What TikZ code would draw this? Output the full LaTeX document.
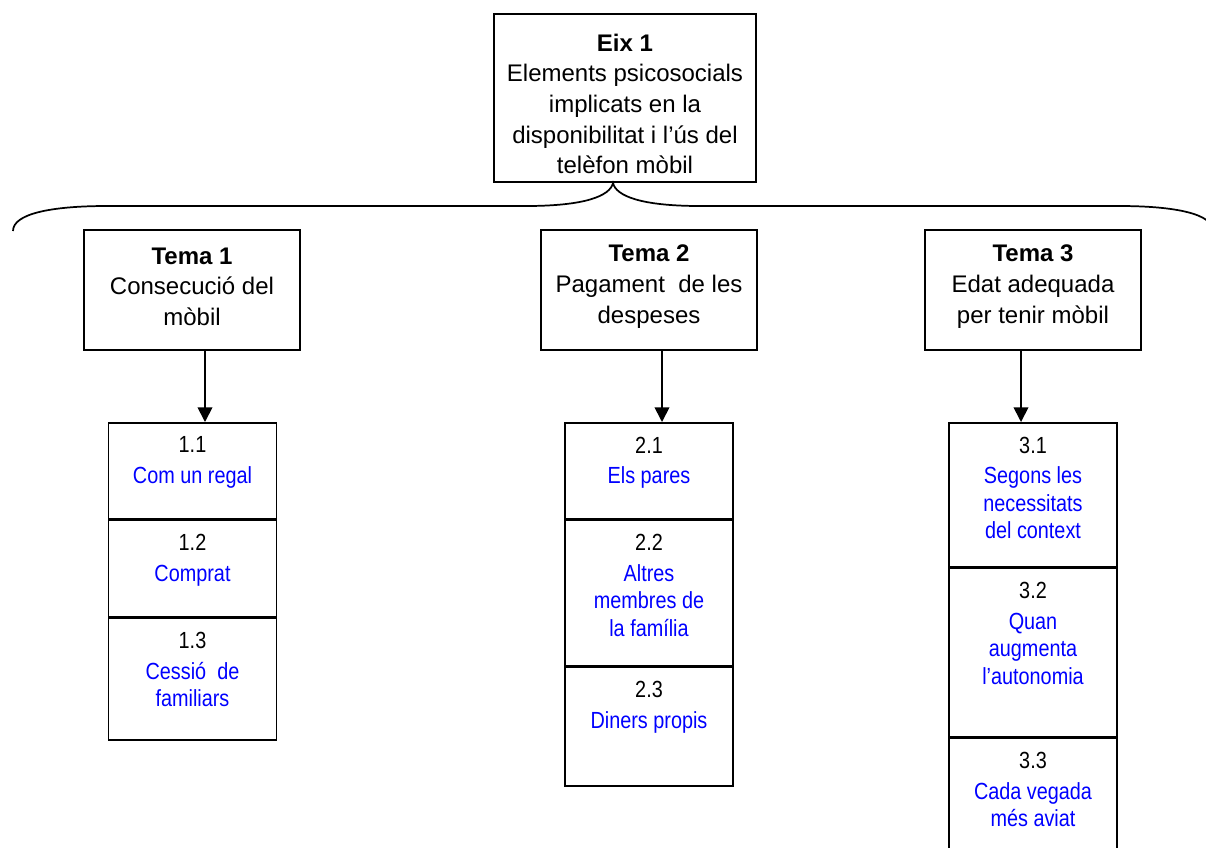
\documentclass[tikz,border=0pt]{standalone}
\usepackage{fontspec}
\setmainfont{Liberation Sans}
\newfontfamily\cellfont{Liberation Sans}[FakeStretch=0.85]
\usetikzlibrary{arrows.meta}
\definecolor{itemblue}{RGB}{0,0,255}
\newcommand{\blu}[1]{\textcolor{itemblue}{#1}}
\begin{document}
\begin{tikzpicture}[x=0.75pt,y=-0.75pt,
  every node/.style={align=center},
  box/.style={draw, line width=1.3pt, inner sep=0pt},
  axisbox/.style={box, minimum width=196.5pt, minimum height=126pt},
  themebox/.style={box, minimum width=162pt, minimum height=90pt},
  boxtext/.style={inner sep=0pt, font=\fontsize{18pt}{23pt}\selectfont},
  cell/.style={draw, line width=1.3pt, minimum width=126pt, anchor=north, inner sep=0pt},
  celltext/.style={anchor=north, inner sep=0pt, yshift=-11pt,
    font=\cellfont\fontsize{17.5pt}{20.75pt}\selectfont},
  link/.style={line width=1.3pt, -{Triangle[length=11pt,width=11pt]}},
  brace/.style={line width=1.3pt}]
\useasboundingbox (0,0) rectangle (1206,847);

% axis box
\node[axisbox] (eix) at (625,98) {};
\node[boxtext, yshift=-4.5pt] (eixtext) at (eix.center)
  {\textbf{Eix 1}\\Elements psicosocials\\implicats en la\\disponibilitat i l’ús del\\telèfon mòbil};

% brace under the axis box
\coordinate (tip) at (613,183);
\draw[brace] (13,231) .. controls (13,214) and (50,206) .. (107,206) -- (526,206)
  .. controls (585,206) and (610,196) .. (tip)
  .. controls (616,196) and (641,206) .. (700,206) -- (1119,206)
  .. controls (1176,206) and (1213,214) .. (1213,231);

% theme boxes
\node[themebox] (tema1) at (192,290) {};
\node[themebox] (tema2) at (649,290) {};
\node[themebox] (tema3) at (1033,290) {};
\node[boxtext, yshift=2.5pt] (tema1text) at (tema1.center) {\textbf{Tema 1}\\Consecució del\\mòbil};
\node[boxtext, yshift=2.5pt] (tema2text) at (tema2.center) {\textbf{Tema 2}\\Pagament\ \ de les\\despeses};
\node[boxtext, yshift=2.5pt] (tema3text) at (tema3.center) {\textbf{Tema 3}\\Edat adequada\\per tenir mòbil};

% column 1
\node[cell, minimum height=72pt] (c11) at (192.5,422) {};
\node[cell, minimum height=72pt] (c12) at (c11.south) {};
\node[cell, minimum height=91.5pt] (c13) at (c12.south) {};
\node[celltext] (t11) at (c11.north) {1.1\\[2pt]\blu{Com un regal}};
\node[celltext] (t12) at (c12.north) {1.2\\[2pt]\blu{Comprat}};
\node[celltext] (t13) at (c13.north) {1.3\\[2pt]\blu{Cessió\ \ de}\\\blu{familiars}};

% column 2
\node[cell, minimum height=72pt] (c21) at (649,422) {};
\node[cell, minimum height=108.75pt] (c22) at (c21.south) {};
\node[cell, minimum height=89.25pt] (c23) at (c22.south) {};
\node[celltext] (t21) at (c21.north) {2.1\\[2pt]\blu{Els pares}};
\node[celltext] (t22) at (c22.north) {2.2\\[2pt]\blu{Altres}\\\blu{membres de}\\\blu{la família}};
\node[celltext] (t23) at (c23.north) {2.3\\[2pt]\blu{Diners propis}};

% column 3
\node[cell, minimum height=108pt] (c31) at (1033,422) {};
\node[cell, minimum height=126pt] (c32) at (c31.south) {};
\node[cell, minimum height=102pt] (c33) at (c32.south) {};
\node[celltext] (t31) at (c31.north) {3.1\\[2pt]\blu{Segons les}\\\blu{necessitats}\\\blu{del context}};
\node[celltext] (t32) at (c32.north) {3.2\\[2pt]\blu{Quan}\\\blu{augmenta}\\\blu{l’autonomia}};
\node[celltext] (t33) at (c33.north) {3.3\\[2pt]\blu{Cada vegada}\\\blu{més aviat}};

% arrows from each theme to its items
\draw[link] ([xshift=9.75pt]tema1.south) -- ([xshift=9.75pt]tema1.south |- c11.north);
\draw[link] ([xshift=9.75pt]tema2.south) -- ([xshift=9.75pt]tema2.south |- c21.north);
\draw[link] ([xshift=-9pt]tema3.south) -- ([xshift=-9pt]tema3.south |- c31.north);
\end{tikzpicture}
\end{document}
